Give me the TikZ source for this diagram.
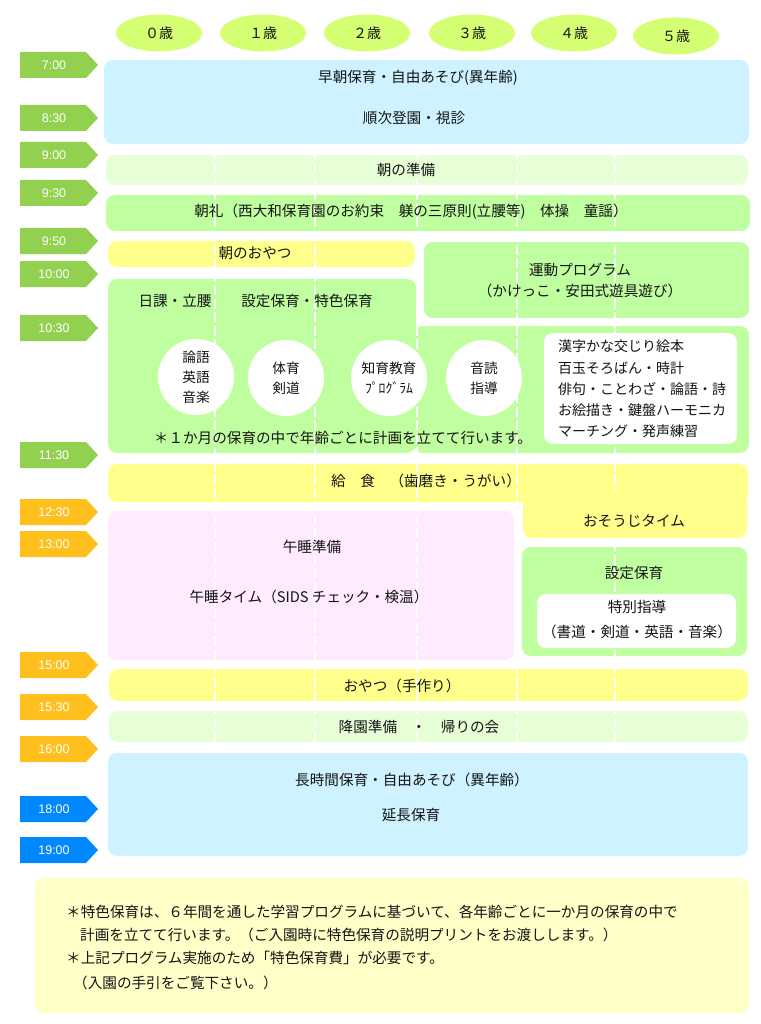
\documentclass[tikz,border=0pt]{standalone}
\usepackage{fontspec}
\setmainfont{Noto Sans CJK JP}
\newfontfamily\tagfont{Liberation Sans}
\usetikzlibrary{shapes.geometric}
\definecolor{skyblue}{RGB}{206,242,255}
\definecolor{palegreen}{RGB}{230,255,215}
\definecolor{midgreen}{RGB}{192,255,160}
\definecolor{lemon}{RGB}{255,255,140}
\definecolor{pinkbox}{RGB}{255,234,255}
\definecolor{cream}{RGB}{255,255,200}
\definecolor{agefill}{RGB}{212,255,115}
\definecolor{taggreen}{RGB}{146,208,80}
\definecolor{tagorange}{RGB}{255,192,30}
\definecolor{tagblue}{RGB}{0,136,255}
\definecolor{ink}{RGB}{20,20,20}
\tikzset{
  box/.style={rounded corners=9pt},
  lbl/.style={text=ink,inner sep=0pt,font=\fontsize{14.6}{17}\selectfont},
  age/.style={ellipse,fill=agefill,minimum width=86pt,minimum height=37pt,inner sep=0pt,text=ink,font=\fontsize{14}{17}\selectfont},
  bubble/.style={circle,fill=white,minimum size=76pt,inner sep=0pt,align=center,text=ink,font=\fontsize{13.7}{20}\selectfont},
  tagtext/.style={text=white,inner sep=0pt,font=\tagfont\fontsize{12.5}{14}\selectfont},
  colline/.style={white,line width=2.7pt,dash pattern=on 10pt off 3.5pt}
}
\begin{document}
\begin{tikzpicture}[x=1pt,y=-1pt]
\useasboundingbox(0,0)rectangle(760,1024);
\foreach \x/\y/\a [count=\i] in {159/33/０,263/33/１,367/33/２,472/33/３,574/33/４,676/36/５}
  \node[age](age\i)at(\x,\y){\a 歳};
\foreach \y/\t/\col [count=\i] in {65/7:00/taggreen,118/8:30/taggreen,155/9:00/taggreen,193/9:30/taggreen,241/9:50/taggreen,274/10:00/taggreen,328/10:30/taggreen,455/11:30/taggreen,512/12:30/tagorange,544/13:00/tagorange,665/15:00/tagorange,707/15:30/tagorange,749/16:00/tagorange,809/18:00/tagblue,850/19:00/tagblue}{
  \fill[\col](20,\y-13)--(86,\y-13)--(98,\y)--(86,\y+13)--(20,\y+13)--cycle;
  \node[tagtext](tag\i)at(54,\y){\t};
}
\fill[skyblue,box](104,60)rectangle(749,144);
\fill[palegreen,box](106,155)rectangle(748,185);
\fill[midgreen,box](106,195)rectangle(750,231);
\fill[lemon,box](108,241)rectangle(415,267);
\fill[midgreen,box](424,242)rectangle(749,318);
\fill[midgreen,box](108,279)rectangle(416,453);
\fill[midgreen,box](414,326)rectangle(749,453);
\fill[lemon,box](108,464)rectangle(748,502);
\fill[pinkbox,box](108,511)rectangle(514,660);
\fill[midgreen,box](522,547)rectangle(747,656);
\fill[lemon,box](109,669)rectangle(748,701);
\fill[palegreen,box](109,711)rectangle(748,742);
\fill[skyblue,box](108,753)rectangle(748,856);
\fill[cream,box](35,878)rectangle(749,1013);
\foreach \x in {215,315,417,517,615}
  \draw[colline](\x,150)--(\x,745);
\fill[lemon,box](523,492)rectangle(747,538);
\fill[white,box](544,333)rectangle(737,444);
\fill[white,box](537,594)rectangle(736,648);
\node[lbl](early)at(418,78){早朝保育・自由あそび(異年齢)};
\node[lbl](arrive)at(414,118){順次登園・視診};
\node[lbl](prep)at(406,170){朝の準備};
\node[lbl](assembly)at(411,212){朝礼（西大和保育園のお約束　躾の三原則(立腰等)　体操　童謡）};
\node[lbl](snack)at(255,253){朝のおやつ};
\node[lbl,align=center,font=\fontsize{14.6}{21}\selectfont](exercise)at(580,281){運動プログラム\\（かけっこ・安田式遊具遊び）};
\node[lbl](daily)at(175,301){日課・立腰};
\node[lbl](special)at(307,301){設定保育・特色保育};
\node[bubble](lang)at(196,377){論語\\英語\\音楽};
\node[bubble](sport)at(286,378){体育\\剣道};
\node[bubble](intel)at(389,378){知育教育\\ﾌﾟﾛｸﾞﾗﾑ};
\node[bubble](read)at(484,378){音読\\指導};
\node[lbl,align=left,anchor=west,font=\fontsize{14}{21.3}\selectfont](skills)at(558,389){漢字かな交じり絵本\\百玉そろばん・時計\\俳句・ことわざ・論語・詩\\お絵描き・鍵盤ハーモニカ\\マーチング・発声練習};
\node[lbl](monthly)at(343,438){＊１か月の保育の中で年齢ごとに計画を立てて行います。};
\node[lbl](lunch)at(426,481){給　食　（歯磨き・うがい）};
\node[lbl](clean)at(634,521){おそうじタイム};
\node[lbl](napprep)at(312,547){午睡準備};
\node[lbl](nap)at(309,597){午睡タイム（SIDS チェック・検温）};
\node[lbl](setting)at(634,573){設定保育};
\node[lbl](guide)at(637,607){特別指導};
\node[lbl](guidelist)at(637,632){（書道・剣道・英語・音楽）};
\node[lbl](treat)at(402,686){おやつ（手作り）};
\node[lbl](leave)at(419,727){降園準備　・　帰りの会};
\node[lbl](longcare)at(412,780){長時間保育・自由あそび（異年齢）};
\node[lbl](extend)at(411,815){延長保育};
\node[lbl,anchor=west](note1)at(66,912){＊特色保育は、６年間を通した学習プログラムに基づいて、各年齢ごとに一か月の保育の中で};
\node[lbl,anchor=west](note2)at(80,935){計画を立てて行います。（ご入園時に特色保育の説明プリントをお渡しします。）};
\node[lbl,anchor=west](note3)at(66,958){＊上記プログラム実施のため「特色保育費」が必要です。};
\node[lbl,anchor=west](note4)at(73,983){（入園の手引をご覧下さい。）};
\end{tikzpicture}
\end{document}
